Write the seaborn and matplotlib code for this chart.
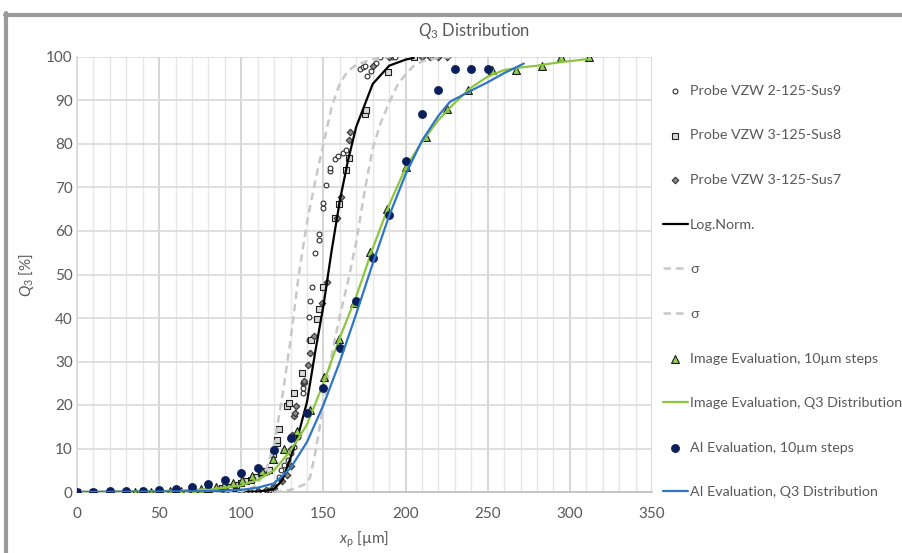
import numpy as np
import pandas as pd
import matplotlib
matplotlib.use("Agg")
import matplotlib.pyplot as plt
from matplotlib.lines import Line2D
import seaborn as sns

# ---------------- data ----------------
sus9_x = [20, 40, 60, 80, 100, 110, 113, 117, 119, 121.6, 122.8, 124.2, 126.2, 128.2, 130.3, 132.3,
          134.8, 137.8, 137.8, 137.8, 141.5, 141.5, 142.1, 143.1, 145.1, 147.1, 147.1, 149.6, 149.6,
          151.8, 153.7, 153.7, 157.3, 158.7, 161.8, 163.6, 172, 174, 175.6, 176.6, 179, 182, 184.6,
          191.9, 193.5]
sus9_y = [0, 0, 0, 0, 0.1, 0.2, 0.1, 0.5, 1.1, 2.4, 3.5, 5.1, 6.2, 7.4, 8.9, 10.4,
          12.6, 22.7, 23.9, 25, 34.9, 40.3, 44, 47.1, 55, 57.9, 59.3, 65.4, 66.4,
          70.6, 73.7, 74.4, 76.6, 77.2, 78, 78.6, 97.2, 97.8, 97.9, 95.6, 96.8, 98.7, 100,
          100, 100]

sus8_x = [0, 10, 20, 30, 40, 50, 60, 70, 80, 88, 93, 96.8, 99.8, 102.9, 106, 109, 111.9, 114, 115,
          116.7, 119, 121.5, 121.5, 123.2, 127.6, 128.9, 132.3, 137, 142.5, 146.1, 147, 149.6, 157.3,
          159.3, 163.8, 165.4, 175.4, 176, 189.2, 205]
sus8_y = [0, 0, 0, 0.1, 0.1, 0.2, 0.3, 0.4, 0.6, 0.9, 1.2, 1.6, 2.0, 2.6, 2.8, 3.5, 4.3, 4.7, 4.9,
          5.1, 8.7, 11.3, 12, 14.5, 19.8, 20.4, 22.8, 27.3, 34.9, 39.8, 42.1, 47.1, 62.9,
          66.3, 74, 76.7, 87, 87.8, 96.6, 100]

sus7_x = [0, 10, 20, 30, 40, 50, 60, 70, 80, 90, 100, 105, 110, 115, 120, 125, 128, 130, 130.5, 131,
          132.3, 132.5, 133.3, 138, 138.4, 140.4, 141.9, 144.5, 149.2, 152.2, 158.1, 160.8, 165.4,
          165.9, 180, 190, 210, 215, 220, 225]
sus7_y = [0, 0, 0, 0, 0, 0, 0, 0, 0, 0, 0.1, 0.2, 0.3, 0.5, 1.0, 2.5, 4, 6, 10, 13,
          17.5, 18.1, 19.8, 25, 25.6, 29.2, 31.9, 35.9, 43.4, 48.3, 62.9, 67.9, 80.9,
          82.8, 98, 100, 100, 100, 100, 100]

logn_x = [0, 100, 110, 115, 120, 125, 130, 135, 140, 145, 150, 155, 160, 165, 170, 180, 190, 200, 205]
logn_y = [0, 0, 0.1, 0.3, 0.7, 2.7, 7.9, 13.6, 20.7, 32.2, 42.8, 55.5, 67, 76.3, 84, 93.8, 98, 99.4, 99.8]

sig_lo_x = [90, 100, 105, 110, 115, 120, 125, 130, 135, 140, 145, 150, 155, 160, 165, 170, 180, 190]
sig_lo_y = [0, 0.1, 0.5, 2, 5, 11, 22, 35, 50, 62, 71.5, 80, 88.5, 94, 96.8, 98.2, 99.5, 100]

sig_hi_x = [120, 130, 135, 140, 142, 145, 148, 150, 155, 160, 165, 170, 175, 180, 185, 190, 195, 200,
            205, 210, 220, 230]
sig_hi_y = [0, 0.5, 1.2, 2, 3.5, 9, 15.5, 20, 31.5, 40.5, 48.5, 57.5, 69, 79, 85, 89.5, 93.5, 96,
            98, 99, 99.8, 100]

img_pts_x = [30, 35.5, 40, 44.8, 50.3, 56.5, 63.5, 71.3, 75.4, 79.9, 84.6, 89.2, 94.7, 100.2, 106.3,
             112.6, 119.1, 126.2, 133.7, 141.9, 150.4, 159.3, 168.5, 178.5, 188.8, 200.4, 212.6,
             225.3, 238, 252.5, 267.5, 283.3, 294.5, 311.6]
img_pts_y = [0.1, 0.1, 0.1, 0.1, 0.2, 0.2, 0.3, 0.4, 0.6, 0.85, 1.1, 1.5, 2.0, 2.8, 3.6,
             4.8, 7.7, 9.8, 14.0, 18.9, 26.5, 35.1, 43.4, 55.2, 65, 74.8, 81.5,
             88, 92.4, 96.9, 96.9, 97.9, 100, 100]

img_line_x = [0, 50, 80, 90, 100, 110, 120, 130, 140, 150, 160, 170, 180, 190, 200, 210, 220, 230,
              240, 250, 260, 270, 280, 290, 310]
img_line_y = [0, 0.2, 0.6, 1.0, 1.5, 2.8, 5.0, 9.5, 15.5, 25, 35.5, 45, 56, 66, 74.5, 80.5, 85.5,
              89.5, 93, 95.5, 97, 97.6, 98, 98.6, 99.5]

ai_pts_x = [0, 10, 20, 30, 40, 50, 60, 70, 80, 90, 100, 110, 120, 130, 140, 150, 160, 170, 180, 190,
            200, 210, 220, 230, 240, 250]
ai_pts_y = [0, 0.1, 0.2, 0.2, 0.2, 0.5, 0.8, 1.2, 1.8, 2.8, 4.4, 5.6, 9.6, 12.5, 18.2, 23.8, 33.0,
            44.0, 53.8, 63.7, 76.1, 87.0, 92.4, 97.2, 97.2, 97.2]

ai_line_x = [3, 50, 80, 100, 110, 120, 130, 140, 150, 160, 170, 180, 190, 200, 210, 220, 227, 240,
             250, 260, 272]
ai_line_y = [0, 0.1, 0.2, 0.5, 1.0, 2.0, 5.5, 11.5, 20, 30, 41, 52.5, 63.5, 73, 80.8, 86.5, 89.7,
             92.3, 94.2, 96.3, 98.5]

labels = ["Probe VZW 2-125-Sus9", "Probe VZW 3-125-Sus8", "Probe VZW 3-125-Sus7", "Log.Norm.",
          "σ", "σ", "Image Evaluation, 10µm steps", "Image Evaluation, Q3 Distribution",
          "AI Evaluation, 10µm steps", "AI Evaluation, Q3 Distribution"]

# ---------------- style ----------------
sns.set_theme(style="white")
FONT = "Lato"
plt.rcParams["font.family"] = [FONT, "DejaVu Sans"]
plt.rcParams["mathtext.fontset"] = "custom"
plt.rcParams["mathtext.rm"] = FONT
plt.rcParams["mathtext.it"] = FONT + ":italic"
TXT = "#595959"

fig = plt.figure(figsize=(9.03, 5.53), dpi=100)
ax = fig.add_axes([77 / 903, 1 - 492 / 553, (652 - 77) / 903, (492 - 57) / 553])

def df(x, y):
    return pd.DataFrame({"x": x, "y": y})

sns.scatterplot(data=df(sus9_x, sus9_y), x="x", y="y", ax=ax, marker="o", s=12,
                facecolor="white", edgecolor="#2a2a2a", linewidth=0.8, label=labels[0], zorder=3)
sns.scatterplot(data=df(sus8_x, sus8_y), x="x", y="y", ax=ax, marker="s", s=24,
                facecolor="#d9d9d9", edgecolor="#202020", linewidth=0.8, label=labels[1], zorder=3)
sns.scatterplot(data=df(sus7_x, sus7_y), x="x", y="y", ax=ax, marker="D", s=11,
                facecolor="#8a8a8a", edgecolor="#303030", linewidth=0.8, label=labels[2], zorder=3)
sns.lineplot(data=df(logn_x, logn_y), x="x", y="y", ax=ax, color="black", linewidth=1.6,
             label=labels[3], estimator=None, sort=False, zorder=4)
sns.lineplot(data=df(sig_lo_x, sig_lo_y), x="x", y="y", ax=ax, color="#c8c8c8", linewidth=1.8,
             dashes=False, linestyle=(0, (3, 2)), label=labels[4], estimator=None, sort=False, zorder=4)
sns.lineplot(data=df(sig_hi_x, sig_hi_y), x="x", y="y", ax=ax, color="#c8c8c8", linewidth=1.8,
             dashes=False, linestyle=(0, (3, 2)), label=labels[5], estimator=None, sort=False, zorder=4)
sns.scatterplot(data=df(img_pts_x, img_pts_y), x="x", y="y", ax=ax, marker="^", s=32,
                facecolor="#92d050", edgecolor="#1a1a1a", linewidth=0.8, label=labels[6], zorder=5)
sns.lineplot(data=df(img_line_x, img_line_y), x="x", y="y", ax=ax, color="#8cc63f", linewidth=1.6,
             label=labels[7], estimator=None, sort=False, zorder=5)
sns.scatterplot(data=df(ai_pts_x, ai_pts_y), x="x", y="y", ax=ax, marker="o", s=34,
                color="#0b1f5c", edgecolor="#0b1f5c", linewidth=0.5, label=labels[8], zorder=6)
sns.lineplot(data=df(ai_line_x, ai_line_y), x="x", y="y", ax=ax, color="#2e75c6", linewidth=1.6,
             label=labels[9], estimator=None, sort=False, zorder=6)

# ---------------- axes ----------------
ax.set_xlim(0, 350)
ax.set_ylim(0, 100)
ax.set_xticks(np.arange(0, 351, 50))
ax.set_xticks(np.arange(0, 351, 10), minor=True)
ax.set_yticks(np.arange(0, 101, 10))
ax.grid(which="major", axis="x", color="#d0d0d0", linewidth=1.2)
ax.grid(which="minor", axis="x", color="#e6e6e6", linewidth=1.0)
ax.grid(which="major", axis="y", color="#d9d9d9", linewidth=1.2)
ax.set_axisbelow(True)
for s in ["top", "right"]:
    ax.spines[s].set_visible(False)
ax.spines["left"].set_color("#d9d9d9")
ax.spines["bottom"].set_color("#bfbfbf")
ax.tick_params(axis="both", which="both", length=0, labelsize=11, labelcolor=TXT)
ax.tick_params(axis="y", pad=3)
ax.tick_params(axis="x", pad=11)
ax.set_xlabel(r"$\mathit{x}_\mathrm{p}$ [µm]", fontsize=11, color=TXT, labelpad=6)
ax.set_ylabel(r"$\mathit{Q}_3$ [%]", fontsize=11, color=TXT, labelpad=7)
fig.text(474 / 903, 1 - 31 / 553, r"$\mathit{Q}_3$ Distribution", fontsize=12, color=TXT,
         ha="center", va="center")

leg = ax.legend(loc="upper left", bbox_to_anchor=(657 / 903, 1 - 79 / 553),
                bbox_transform=fig.transFigure, frameon=False, fontsize=10.3,
                labelspacing=2.28, handlelength=1.75, handletextpad=0.15, borderaxespad=0)
for t in leg.get_texts():
    t.set_color(TXT)

# outer chart frame (grey, partly cut off)
fig.add_artist(Line2D([5 / 903, 1.0], [1 - 14.5 / 553, 1 - 14.5 / 553], color="#9a9a9a",
                      linewidth=3, transform=fig.transFigure))
fig.add_artist(Line2D([6.5 / 903, 6.5 / 903], [0, 1 - 13 / 553], color="#9a9a9a",
                      linewidth=3, transform=fig.transFigure))

fig.savefig("out.png", dpi=100)
